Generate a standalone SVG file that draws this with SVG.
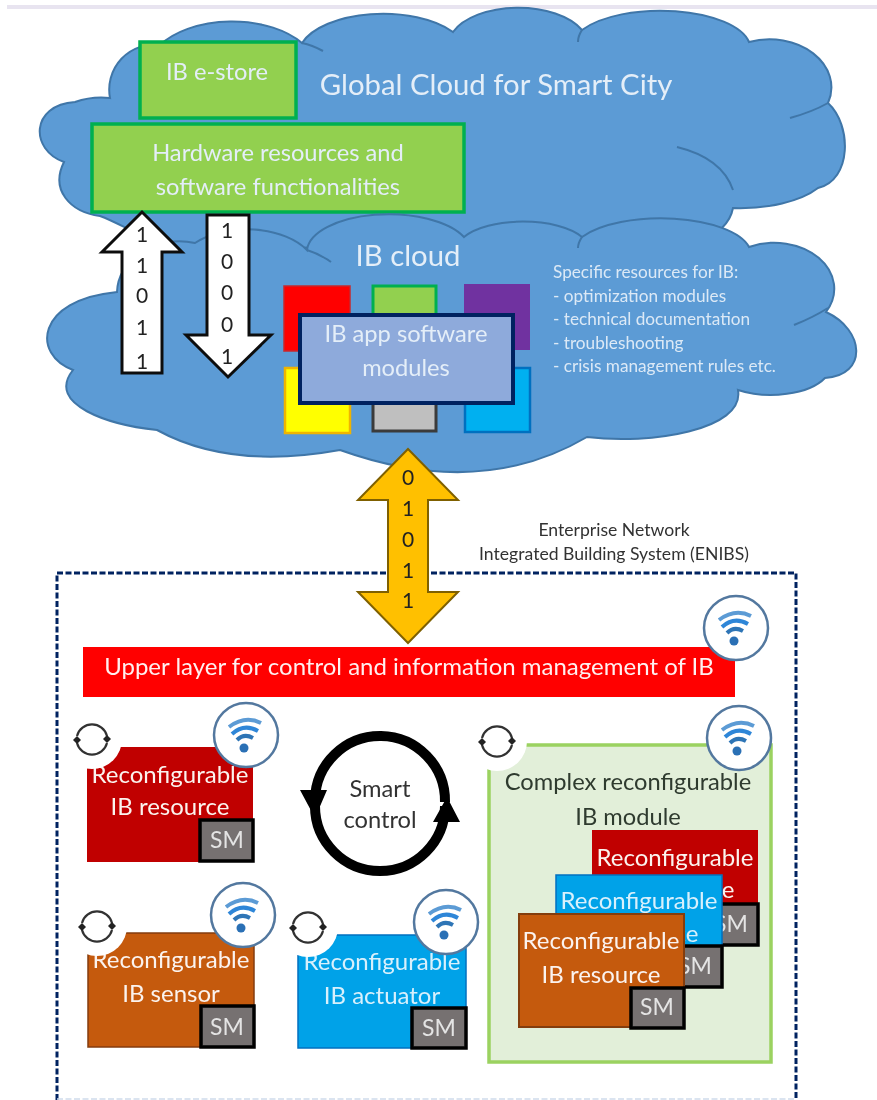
<svg xmlns="http://www.w3.org/2000/svg" width="877" height="1100" viewBox="0 0 877 1100">
<style>
text{font-family:Lato,"Noto Sans","Liberation Sans",sans-serif;text-anchor:middle}
.cloud{fill:#5b9bd5;stroke:#3f76a8;stroke-width:2}
.crease{fill:none;stroke:#3f76a8;stroke-width:2}
.green{fill:#92d050;stroke:#00b050;stroke-width:3.500}
.lab{fill:#e4eef8;font-size:23.700px}
.big{fill:#e4eef8;font-size:29.300px}
.small{fill:#dce9f6;font-size:17.200px;text-anchor:start}
.w{fill:#fbf3ee;font-size:24px}
.bit{fill:#222;font-size:21px}
.arrow{fill:#fff;stroke:#111;stroke-width:3}
.sm rect{fill:#767171;stroke:#000;stroke-width:3.500}
.sm text{fill:#e4e4e4;font-size:23px}
.wc{fill:#fff;stroke:#53789f;stroke-width:2.500}
.wa{fill:none;stroke-width:4}
.dark{fill:#2f3a2f;font-size:23.700px}
.note{fill:#333;font-size:17.600px}
</style>
<defs>
<filter id="soft" x="0" y="0" width="100%" height="100%" filterUnits="userSpaceOnUse"><feGaussianBlur stdDeviation="0.500"/></filter>
<g id="wifi">
<circle class="wc" r="32"/>
<path class="wa" stroke="#5b9bd5" d="M-17-8Q-1-20 15-12"/>
<path class="wa" stroke="#2e86d8" d="M-14-1Q-2-12 12-4"/>
<path class="wa" stroke="#2e75b6" d="M-9 5Q-2-2 7 3"/>
<circle cx="-2" cy="13" r="4.500" fill="#2a6fb5"/>
</g>
<g id="sync">
<circle r="30" fill="#fff"/>
<path fill="none" stroke="#333" stroke-width="2.200" d="M-15-3A15.500 15.500 0 0 1 15-3M15 4A15.500 15.500 0 0 1-15 4"/>
<path fill="#222" d="M-19 1l4-4 4 4-4 4zM11 0l4-4 4 4-4 4z"/>
</g>
</defs>
<rect width="877" height="1100" fill="#fff"/>
<g filter="url(#soft)">
<rect x="7" y="5" width="870" height="4" fill="#e8e4f0"/>
<g id="global-cloud">
<path class="cloud" d="M110,98A45 45 0 0 1 160,45A85 50 0 0 1 302,43A85 42 0 0 1 453,32A70 38 0 0 1 582,30A90 38 0 0 1 749,42A62 48 0 0 1 828,103C852,125 852,180 818,188A90 40 0 0 1 733,208A50 40 0 0 1 700,240L190,250C150,245 125,225 100,216C70,212 50,190 64,162C30,150 30,105 75,102Q92,96 110,98Z"/>
<path class="crease" d="M302,43Q312,45 323,51M582,30Q578,36 578,42M790,118Q812,112 828,103M677,147Q722,158 733,190"/>
<text class="big" x="496" y="95">Global Cloud for Smart City</text>
</g>
<g id="ib-e-store">
<rect class="green" x="140" y="42" width="156" height="76"/>
<text class="lab" x="217" y="80">IB e-store</text>
</g>
<g id="hardware">
<rect class="green" x="92" y="124" width="372" height="88"/>
<text class="lab" x="278" y="161">Hardware resources and</text>
<text class="lab" x="278" y="195">software functionalities</text>
</g>
<g id="ib-cloud">
<path class="cloud" d="M73,370C32,355 35,300 117,292A62 52 0 0 1 195,243A70 42 0 0 1 307,250A82 38 0 0 1 464,237A66 28 0 0 1 582,237A90 36 0 0 1 749,247A60 46 0 0 1 826,312C865,330 868,375 825,378A60 30 0 0 1 738,390C745,430 650,445 587,437Q480,500 340,450Q230,470 157,430C110,425 45,405 73,370Z"/>
<path class="crease" d="M307,250Q320,254 331,262M582,237Q578,243 578,248M794,325Q812,318 828,308"/>
<text class="big" x="408" y="266">IB cloud</text>
<text class="small" x="553" y="278">Specific resources for IB:</text>
<text class="small" x="553" y="302">- optimization modules</text>
<text class="small" x="553" y="325">- technical documentation</text>
<text class="small" x="553" y="349">- troubleshooting</text>
<text class="small" x="553" y="372">- crisis management rules etc.</text>
</g>
<g id="app-modules">
<rect x="284" y="286" width="66" height="65" fill="#ff0000" stroke="#c8282c" stroke-width="1.500"/>
<rect x="373" y="286" width="63" height="65" fill="#92d050" stroke="#00b050" stroke-width="3"/>
<rect x="464" y="284" width="66" height="66" fill="#7030a0"/>
<rect x="285" y="368" width="65" height="65" fill="#ffff00" stroke="#f0b400" stroke-width="2.500"/>
<rect x="373" y="368" width="63" height="63" fill="#bfbfbf" stroke="#3a3a3a" stroke-width="3"/>
<rect x="465" y="368" width="65" height="64" fill="#00b0f0" stroke="#0070c0" stroke-width="2.500"/>
</g>
<g id="ib-app">
<rect x="300" y="315" width="213" height="88" fill="#8eaadb" stroke="#002060" stroke-width="4"/>
<text class="lab" x="406" y="342">IB app software</text>
<text class="lab" x="406" y="376">modules</text>
</g>
<g id="enibs">
<path fill="none" stroke="#002060" stroke-width="3" stroke-dasharray="6 2.500" d="M57,1100V573H796V1100"/>
<path fill="none" stroke="#cfdcec" stroke-width="1.500" stroke-dasharray="6 2.500" d="M57,1099H796"/>
<text class="note" x="614" y="536">Enterprise Network</text>
<text class="note" x="614" y="560">Integrated Building System (ENIBS)</text>
</g>
<g id="connectors">
<path class="arrow" d="M142,212L182,252H162V373H122V252H102Z"/>
<path class="arrow" d="M207,215H249V335H271L228,377L186,335H207Z"/>
<path fill="#ffc000" stroke="#7f6000" stroke-width="2" d="M408,449L458,500H428V592H458L408,643L358,592H388V500H358Z"/>
<g class="bit">
<text x="142" y="242">1</text><text x="142" y="273">1</text><text x="142" y="303">0</text><text x="142" y="335">1</text><text x="142" y="369">1</text>
<text x="227" y="238">1</text><text x="227" y="269">0</text><text x="227" y="300">0</text><text x="227" y="332">0</text><text x="227" y="364">1</text>
<text x="408" y="485">0</text><text x="408" y="516">1</text><text x="408" y="547">0</text><text x="408" y="578">1</text><text x="408" y="608">1</text>
</g>
</g>
<g id="upper-layer">
<rect x="83" y="647" width="652" height="50" fill="#ff0000"/>
<text x="409" y="675" fill="#fff0f0" style="font-size:24px">Upper layer for control and information management of IB</text>
<use href="#wifi" x="736" y="628"/>
</g>
<g id="resource">
<rect x="87" y="747" width="166" height="115" fill="#c00000"/>
<text class="w" x="170" y="783">Reconfigurable</text>
<text class="w" x="170" y="815">IB resource</text>
<g class="sm"><rect x="200" y="820" width="53" height="41"/><text x="227" y="848">SM</text></g>
<use href="#sync" x="92" y="739"/>
<use href="#wifi" x="246" y="735"/>
</g>
<g id="smart-control">
<path fill="none" stroke="#000" stroke-width="10" d="M315,800A65 65 0 0 1 445,802M445,806A65 65 0 0 1 315,806"/>
<path d="M300,790H327L315,818ZM433,822H460L447,797Z"/>
<text x="380" y="797" fill="#333" style="font-size:23.700px">Smart</text>
<text x="380" y="828" fill="#333" style="font-size:23.700px">control</text>
</g>
<g id="sensor">
<rect x="88" y="933" width="166" height="114" fill="#c55a11" stroke="#843c0c" stroke-width="1.500"/>
<text class="w" x="171" y="968">Reconfigurable</text>
<text class="w" x="171" y="1002">IB sensor</text>
<g class="sm"><rect x="201" y="1006" width="53" height="41"/><text x="227" y="1035">SM</text></g>
<use href="#sync" x="97" y="926"/>
<use href="#wifi" x="243" y="915"/>
</g>
<g id="actuator">
<rect x="298" y="935" width="168" height="113" fill="#00a2e8" stroke="#0070c0" stroke-width="1.500"/>
<text class="w" x="382" y="970" style="fill:#d8f0fc">Reconfigurable</text>
<text class="w" x="382" y="1004" style="fill:#d8f0fc">IB actuator</text>
<g class="sm"><rect x="412" y="1008" width="54" height="40"/><text x="439" y="1036">SM</text></g>
<use href="#sync" x="308" y="927"/>
<use href="#wifi" x="446" y="922"/>
</g>
<g id="complex">
<rect x="489" y="745" width="282" height="317" fill="#e2efd9" stroke="#9bd260" stroke-width="3.500"/>
<use href="#sync" x="497" y="741"/>
<use href="#wifi" x="739" y="738"/>
<text class="dark" x="628" y="790">Complex reconfigurable</text>
<text class="dark" x="628" y="825">IB module</text>
<g id="stack-red">
<rect x="592" y="830" width="166" height="113" fill="#c00000"/>
<text class="w" x="675" y="866">Reconfigurable</text>
<text class="w" x="675" y="898">IB resource</text>
<g class="sm"><rect x="705" y="904" width="53" height="41"/><text x="731" y="932">SM</text></g>
</g>
<g id="stack-blue">
<rect x="556" y="875" width="166" height="112" fill="#00a2e8" stroke="#0070c0" stroke-width="1.500"/>
<text class="w" x="639" y="909" style="fill:#d8f0fc">Reconfigurable</text>
<text class="w" x="639" y="942" style="fill:#d8f0fc">IB resource</text>
<g class="sm"><rect x="669" y="946" width="53" height="41"/><text x="695" y="974">SM</text></g>
</g>
<g id="stack-orange">
<rect x="519" y="914" width="165" height="113" fill="#c55a11" stroke="#843c0c" stroke-width="2"/>
<text class="w" x="601" y="949">Reconfigurable</text>
<text class="w" x="601" y="983">IB resource</text>
<g class="sm"><rect x="631" y="988" width="53" height="40"/><text x="657" y="1015">SM</text></g>
</g>
</g>
</g>
</svg>
